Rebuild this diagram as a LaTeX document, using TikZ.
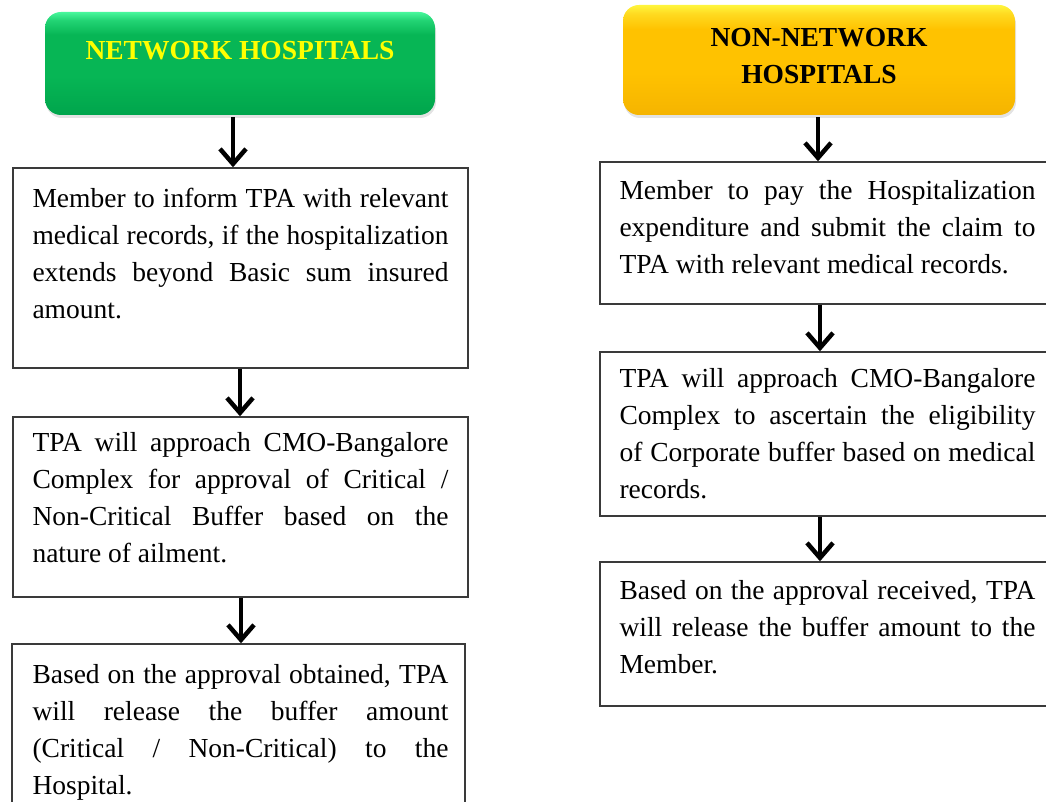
\documentclass[tikz,border=0pt]{standalone}
\usepackage{fontspec}
\setmainfont{Liberation Serif}
\usetikzlibrary{arrows.meta,shadows,calc}
\definecolor{gbase}{HTML}{07B655}
\definecolor{glight}{HTML}{48F79C}
\definecolor{gmid}{HTML}{22D474}
\definecolor{gdark}{HTML}{00A54C}
\definecolor{ybase}{HTML}{FFC200}
\definecolor{ylight}{HTML}{FFF53C}
\definecolor{ymid}{HTML}{FFDA20}
\definecolor{ydark}{HTML}{F5B400}
\definecolor{boxline}{HTML}{3A3A3A}
\definecolor{htext}{HTML}{FFFF00}
\pgfdeclareverticalshading{greenhdr}{100bp}{color(0bp)=(gdark); color(25bp)=(gdark); color(44bp)=(gbase); color(64bp)=(gbase); color(71bp)=(gmid); color(75bp)=(glight); color(100bp)=(glight)}
\pgfdeclareverticalshading{yellowhdr}{100bp}{color(0bp)=(ydark); color(25bp)=(ydark); color(44bp)=(ybase); color(64bp)=(ybase); color(71bp)=(ymid); color(75bp)=(ylight); color(100bp)=(ylight)}
\newcommand{\myfirststrut}{\rule{0pt}{20pt}}
\begin{document}
\begin{tikzpicture}[x=1pt,y=-1pt,
  hdr/.style={rounded corners=16pt, inner sep=0pt,
    drop shadow={shadow xshift=1pt,shadow yshift=-3pt,opacity=0.22}},
  ghdr/.style={hdr, shade, shading=greenhdr},
  yhdr/.style={hdr, shade, shading=yellowhdr},
  hfont/.style={font=\bfseries\fontsize{27.5}{37}\selectfont},
  stepbox/.style={draw=boxline, line width=1.4pt, inner sep=0pt},
  txt/.style={anchor=north west, inner sep=0pt, text width=416pt, align=justify,
    font=\fontsize{27.5}{37}\selectfont},
  arr/.style={line width=4.5pt, -{Straight Barb[length=15pt,width=26pt]}}
]
\useasboundingbox (0,0) rectangle (1046,802);
\clip (0,0) rectangle (1046,802);

% headers
\node[ghdr, minimum width=390pt, minimum height=103pt] (hL) at (240,63.5) {};
\node[hfont, text=htext, anchor=base] (hLt) at (240,60) {NETWORK HOSPITALS};
\node[yhdr, minimum width=392pt, minimum height=110pt] (hR) at (819,60) {};
\node[hfont, text=black, anchor=north, inner sep=0pt, align=center] (hRt) at (819,26) {\myfirststrut NON-NETWORK\\HOSPITALS};

% left column boxes
\node[stepbox, minimum width=455pt, minimum height=200pt] (L1) at (240.5,268) {};
\node[txt] (L1t) at ([xshift=20pt,yshift=-20pt]L1.north west) {\myfirststrut Member to inform TPA with relevant\linebreak medical records, if the hospitalization\linebreak extends beyond Basic sum insured\linebreak amount.};

\node[stepbox, minimum width=455pt, minimum height=180pt] (L2) at (240.5,507) {};
\node[txt] (L2t) at ([xshift=20pt,yshift=-15pt]L2.north west) {\myfirststrut TPA will approach CMO-Bangalore\linebreak Complex for approval of Critical /\linebreak Non-Critical Buffer based on the\linebreak nature of ailment.};

\node[stepbox, minimum width=453pt, minimum height=170pt] (L3) at (238.5,729) {};
\node[txt] (L3t) at ([xshift=21pt,yshift=-20pt]L3.north west) {\myfirststrut Based on the approval obtained, TPA\linebreak will release the buffer amount\linebreak (Critical / Non-Critical) to the\linebreak Hospital.};

% right column boxes
\node[stepbox, minimum width=456pt, minimum height=142pt] (R1) at (828,233) {};
\node[txt] (R1t) at ([xshift=20pt,yshift=-18pt]R1.north west) {\myfirststrut Member to pay the Hospitalization\linebreak expenditure and submit the claim to\linebreak TPA with relevant medical records.};

\node[stepbox, minimum width=456pt, minimum height=164pt] (R2) at (828,434) {};
\node[txt] (R2t) at ([xshift=20pt,yshift=-16pt]R2.north west) {\myfirststrut TPA will approach CMO-Bangalore\linebreak Complex to ascertain the eligibility\linebreak of Corporate buffer based on medical\linebreak records.};

\node[stepbox, minimum width=456pt, minimum height=144pt] (R3) at (828,634) {};
\node[txt] (R3t) at ([xshift=20pt,yshift=-18pt]R3.north west) {\myfirststrut Based on the approval received, TPA\linebreak will release the buffer amount to the\linebreak Member.};

% arrows
\draw[arr] ([xshift=-7pt,yshift=-2pt]hL.south) -- ([xshift=-7.5pt]L1.north);
\draw[arr] ([xshift=-0.5pt]L1.south) -- ([xshift=-0.5pt]L2.north);
\draw[arr] ([xshift=0.5pt]L2.south) -- ([xshift=2.5pt]L3.north);
\draw[arr] ([xshift=-1pt,yshift=-2pt]hR.south) -- ([xshift=-10pt]R1.north);
\draw[arr] ([xshift=-8pt]R1.south) -- ([xshift=-8pt]R2.north);
\draw[arr] ([xshift=-8pt]R2.south) -- ([xshift=-8pt]R3.north);
\end{tikzpicture}
\end{document}
